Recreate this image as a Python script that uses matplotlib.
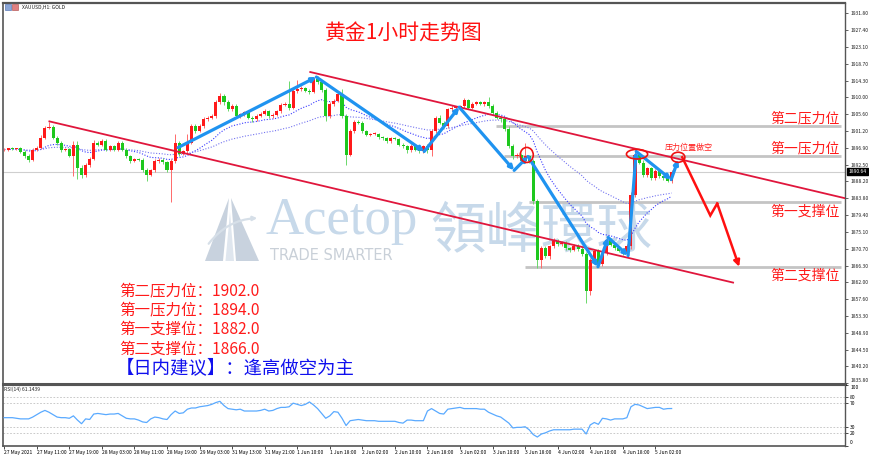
import matplotlib
matplotlib.use('Agg')
import matplotlib.pyplot as plt
import numpy as np
import pandas as pd
from matplotlib.patches import Ellipse, Polygon, Rectangle, FancyArrowPatch
from matplotlib.transforms import blended_transform_factory

plt.rcParams['font.family'] = ['Noto Sans CJK SC', 'DejaVu Sans']

# ---------------- data ----------------
first_open = 1896.2
closes = [
    1896.4, 1896.7, 1896.6, 1896.7, 1895.8, 1894.7, 1893.8, 1896.4, 1896.9, 1899.5,
    1902.1, 1902.2, 1899.5, 1898.2, 1896.4, 1896.6, 1894.7, 1897.7, 1891.7, 1889.9,
    1892.5, 1894.0, 1898.2, 1897.7, 1898.6, 1896.4, 1897.3, 1896.4, 1898.2, 1896.4,
    1894.7, 1893.4, 1893.9, 1893.7, 1891.2, 1889.9, 1891.0, 1893.4, 1893.8, 1893.2,
    1891.2, 1893.4, 1898.2, 1895.3, 1896.0, 1898.2, 1902.5, 1901.2, 1902.5, 1904.2,
    1904.7, 1905.1, 1908.6, 1910.3, 1908.6, 1906.8, 1907.7, 1905.1, 1905.5, 1906.2,
    1904.7, 1904.2, 1905.1, 1905.7, 1906.4, 1905.1, 1905.4, 1906.4, 1907.9, 1908.3,
    1907.3, 1911.6, 1912.0, 1912.3, 1911.6, 1911.4, 1914.6, 1914.0, 1911.8, 1905.1,
    1908.1, 1909.0, 1910.7, 1905.1, 1895.1, 1901.2, 1903.6, 1903.4, 1901.2, 1900.2,
    1900.5, 1900.5, 1899.6, 1899.3, 1898.6, 1899.3, 1899.1, 1897.7, 1897.3, 1896.2,
    1897.3, 1896.4, 1896.0, 1897.3, 1896.4, 1901.2, 1904.7, 1903.4, 1902.5, 1906.8,
    1907.3, 1907.4, 1907.7, 1909.2, 1907.3, 1908.3, 1908.6, 1908.3, 1908.6, 1907.7,
    1906.0, 1904.7, 1904.2, 1901.6, 1897.3, 1894.7, 1895.0, 1893.4, 1894.7, 1893.4,
    1883.0, 1867.8, 1870.9, 1868.7, 1871.3, 1872.6, 1871.9, 1872.2, 1870.9, 1870.4,
    1871.5, 1870.7, 1869.3, 1859.6, 1867.8, 1870.0, 1866.7, 1869.5, 1873.0, 1871.7,
    1870.9, 1870.2, 1869.6, 1871.3, 1884.7, 1895.1, 1893.0, 1889.8, 1891.5, 1889.0,
    1890.8, 1889.5, 1888.9, 1888.3, 1890.64]

wick_up = [
    0.3, 0.2, 0.3, 0.2, 0.3, 0.4, 0.5, 0.4, 0.3, 0.6,
    0.5, 1.4, 0.6, 0.4, 0.5, 0.3, 0.3, 0.8, 0.9, 0.6,
    0.5, 0.4, 0.6, 0.4, 0.5, 0.6, 0.4, 0.3, 0.5, 0.4,
    0.3, 0.4, 0.3, 0.3, 0.4, 0.3, 0.4, 0.5, 0.3, 0.4,
    0.3, 0.6, 2.1, 0.5, 0.4, 2.1, 0.6, 0.4, 0.5, 0.6,
    0.4, 0.5, 0.6, 0.8, 0.5, 0.6, 0.4, 0.5, 0.4, 0.3,
    0.4, 0.3, 0.4, 0.5, 0.4, 0.3, 0.4, 0.3, 0.5, 0.4,
    5.9, 0.6, 2.4, 0.5, 0.4, 0.5, 0.6, 0.9, 0.5, 0.6,
    0.5, 0.6, 0.6, 1.3, 0.5, 0.6, 0.5, 0.4, 0.5, 0.3,
    0.3, 0.4, 0.3, 0.3, 0.4, 0.3, 0.4, 0.3, 0.5, 0.4,
    0.5, 0.4, 0.3, 0.4, 0.5, 0.6, 0.5, 0.6, 0.4, 0.5,
    0.6, 0.4, 0.3, 0.6, 0.4, 0.3, 0.4, 0.3, 0.5, 1.3,
    0.5, 0.4, 0.3, 0.6, 1.0, 0.5, 0.4, 0.5, 3.5, 0.4,
    0.5, 0.6, 0.4, 0.5, 0.4, 0.8, 0.6, 0.5, 0.4, 0.3,
    0.5, 0.4, 0.3, 0.6, 0.5, 0.4, 0.6, 0.5, 0.6, 0.4,
    0.3, 0.4, 0.3, 0.5, 0.6, 1.1, 0.5, 0.6, 0.5, 0.4,
    0.5, 0.4, 0.3, 0.4, 0.5]

wick_dn = [
    0.3, 0.4, 0.3, 0.2, 0.4, 0.5, 0.6, 0.4, 0.3, 0.4,
    0.3, 0.5, 0.4, 0.5, 0.6, 0.4, 0.3, 5.2, 3.0, 1.0,
    0.6, 0.5, 0.4, 0.5, 0.3, 0.5, 0.4, 0.3, 0.4, 0.5,
    0.4, 0.5, 0.3, 0.4, 0.6, 1.7, 0.4, 0.3, 0.4, 0.5,
    0.5, 8.5, 0.5, 0.6, 0.4, 0.5, 0.4, 0.5, 0.3, 0.4,
    0.3, 0.4, 0.5, 0.4, 0.6, 0.5, 0.4, 0.6, 0.4, 0.3,
    0.5, 0.6, 0.4, 0.3, 0.4, 0.5, 0.4, 0.3, 0.4, 0.3,
    0.6, 0.4, 0.5, 0.4, 0.3, 0.5, 0.4, 0.5, 0.6, 1.2,
    0.6, 0.5, 0.4, 0.6, 2.6, 0.5, 0.4, 0.5, 0.6, 0.4,
    0.3, 0.4, 0.5, 0.3, 0.4, 0.5, 0.3, 0.4, 0.5, 0.6,
    0.4, 0.5, 0.6, 0.4, 0.8, 1.7, 0.5, 0.4, 0.6, 0.5,
    0.4, 0.3, 0.5, 0.4, 0.5, 0.4, 0.3, 0.4, 0.5, 0.4,
    0.5, 0.4, 0.6, 0.5, 0.6, 0.8, 0.5, 0.6, 0.5, 0.4,
    0.6, 2.2, 2.2, 0.5, 0.6, 0.4, 0.5, 0.4, 0.6, 0.5,
    0.4, 0.5, 0.6, 3.1, 1.0, 0.5, 0.6, 0.4, 0.5, 0.4,
    0.5, 0.4, 0.5, 0.6, 0.8, 0.5, 0.4, 0.6, 0.5, 0.4,
    0.5, 0.4, 0.3, 0.4, 0.5]

rsi = [
    46, 46, 46, 45, 44, 44, 44, 47, 51, 55,
    58, 55, 51, 47, 46, 46, 45, 49, 42, 36,
    44, 43, 52, 53, 52, 51, 52, 52, 53, 49,
    45, 44, 44, 42, 39, 38, 44, 47, 46, 44,
    43, 51, 57, 53, 54, 60, 62, 62, 64, 65,
    66, 68, 71, 73, 66, 61, 60, 59, 60, 57,
    57, 57, 57, 58, 60, 57, 58, 61, 63, 63,
    64, 70, 68, 66, 68, 72, 67, 61, 53, 45,
    49, 56, 55, 45, 33, 41, 42, 43, 42, 41,
    41, 41, 40, 40, 40, 40, 40, 38, 37, 42,
    42, 41, 41, 41, 57, 61, 57, 53, 52, 60,
    61, 62, 63, 61, 61, 61, 61, 60, 60, 55,
    52, 49, 47, 42, 37, 29, 30, 30, 31, 26,
    18, 14, 19, 21, 24, 26, 26, 26, 26, 26,
    27, 27, 27, 19, 34, 38, 35, 45, 44, 42,
    44, 44, 44, 46, 64, 68, 67, 64, 61, 62,
    63, 63, 60, 61, 61.14]

x_labels = ["27 May 2021", "27 May 11:00", "27 May 19:00", "28 May 03:00", "28 May 11:00",
            "28 May 19:00", "29 May 03:00", "31 May 13:00", "31 May 21:00", "1 Jun 10:00",
            "1 Jun 18:00", "2 Jun 02:00", "2 Jun 10:00", "2 Jun 18:00", "3 Jun 02:00",
            "3 Jun 10:00", "3 Jun 18:00", "4 Jun 02:00", "4 Jun 10:00", "4 Jun 18:00",
            "5 Jun 02:00"]
price_ticks = [1931.80, 1927.40, 1923.10, 1918.70, 1914.30, 1910.00, 1905.60, 1901.20,
               1896.90, 1892.50, 1888.20, 1883.80, 1879.40, 1875.10, 1870.70, 1866.30,
               1862.00, 1857.60, 1853.30, 1848.90, 1844.50, 1840.20, 1835.80]
rsi_ticks = [0, 20, 30, 70, 80, 100]
rsi_levels = [80, 70, 30, 20]
last_price = 1890.64

level_names = ["第二压力位", "第一压力位", "第一支撑位", "第二支撑位"]
level_values = [1902.0, 1894.0, 1882.0, 1866.0]
level_lines = [1902.5, 1894.6, 1882.8, 1865.9]
level_start = [120.9, 122.9, 129.0, 128.0]
advice = "【日内建议】：逢高做空为主"
title = "黄金1小时走势图"

# channel lines (bar, price)
upper_ch_x = [75.2, 206.9]
upper_ch_y = [1916.5, 1883.7]
lower_ch_x = [11.1, 179.1]
lower_ch_y = [1903.7, 1861.9]

# blue swing lines
zig_x = [42.7, 76.7, 103.2, 111.8, 125.3, 128.7, 145.9, 148.4, 153.3, 155.3, 163.9, 165.6]
zig_y = [1896.9, 1915.2, 1895.9, 1907.4, 1891.0, 1894.6, 1866.0, 1873.6, 1868.9, 1895.9, 1888.6, 1893.8]

# red forecast path
fc_x = [166.6, 173.5, 175.2, 180.6]
fc_y = [1894.4, 1879.3, 1882.4, 1866.0]

# red circles (centre bar, centre price, width in bars, height in price)
circles = [(128.4, 1895.0, 3.2, 3.9), (155.5, 1895.2, 5.2, 2.5), (165.6, 1894.4, 3.3, 2.6)]

# ---------------- figure ----------------
W, H = 870, 457
fig = plt.figure(figsize=(W / 100, H / 100), dpi=100)
fig.patch.set_facecolor('white')


def fx(x):
    return x / W


def fy(y):
    return 1 - y / H


ax = fig.add_axes([fx(3), fy(384), (845 - 3) / W, (384 - 3) / H])
axr = fig.add_axes([fx(3), fy(445.5), (845 - 3) / W, (445.5 - 385) / H])

n = len(closes)
xi = np.arange(n)
c = np.array(closes)
o = np.array([first_open] + closes[:-1])
hi = np.maximum(o, c) + np.array(wick_up)
lo = np.minimum(o, c) - np.array(wick_dn)
up = c >= o
cols = np.where(up, '#ff1a1a', '#1ec81e')
wcols = np.where(up, '#ff6a6a', '#6ad86a')
body_bot = np.minimum(o, c)
body_h = np.maximum(np.abs(c - o), 0.18)

ax.vlines(xi, lo, hi, colors=wcols, lw=0.7, zorder=3)
ax.bar(xi, body_h, bottom=body_bot, width=0.75, color=cols, linewidth=0, zorder=4)

# moving averages
s = pd.Series(closes)
ema_fast = s.ewm(span=20, adjust=False).mean()
ema_slow = s.ewm(span=50, adjust=False).mean()
ax.plot(xi, ema_fast, color='#3a3aff', lw=0.8, ls=(0, (1, 1.5)), zorder=2.5)
ax.plot(xi, ema_slow, color='#7474f0', lw=0.8, ls=(0, (1, 1.5)), zorder=2.5)

ax.set_xlim(-0.3, 206.6)
ax.set_ylim(1835.6, 1934.4)

# bid line
ax.axhline(last_price, color='#cfcfcf', lw=0.8, zorder=1.5)

# support / resistance lines
for lv, st in zip(level_lines, level_start):
    ax.plot([st, 205.6], [lv, lv], color='#c4c4c4', lw=2.0, zorder=1.6, solid_capstyle='butt')

# channel
ax.plot(upper_ch_x, upper_ch_y, color='#e0163c', lw=1.3, zorder=5)
ax.plot(lower_ch_x, lower_ch_y, color='#e0163c', lw=1.3, zorder=5)

# blue swing lines with small arrowheads
for i in range(len(zig_x) - 1):
    ax.annotate('', xy=(zig_x[i + 1], zig_y[i + 1]), xytext=(zig_x[i], zig_y[i]),
                arrowprops=dict(arrowstyle='-|>', color='#1f93f0', lw=2.3,
                                mutation_scale=6, shrinkA=0, shrinkB=0), zorder=6)

# red forecast
ax.plot(fc_x[:-1], fc_y[:-1], color='#ff1010', lw=1.8, zorder=6, solid_joinstyle='miter')
ax.annotate('', xy=(fc_x[-1], fc_y[-1]), xytext=(fc_x[-2], fc_y[-2]),
            arrowprops=dict(arrowstyle='-|>', color='#ff1010', lw=1.8,
                            mutation_scale=9, shrinkA=0, shrinkB=0), zorder=6)

for cx, cy, cw, ch in circles:
    ax.add_patch(Ellipse((cx, cy), cw, ch, fill=False, edgecolor='#ee1111', lw=1.2, zorder=7))

# watermark
wm = '#c7d9ea'
ax.text(fx(266), fy(234), 'Acetop', transform=fig.transFigure, fontsize=38,
        family=['Liberation Serif', 'DejaVu Serif'], color=wm, ha='left', va='baseline', zorder=0.5)
ax.text(fx(430), fy(232), '領峰環球', transform=fig.transFigure, fontsize=40,
        family=['Noto Sans CJK TC', 'DejaVu Sans'], color=wm, ha='left', va='center', zorder=0.5)
ax.text(fx(270), fy(256), 'TRADE SMARTER', transform=fig.transFigure, fontsize=10.5,
        family=['DejaVu Sans'], color='#c9d0d8', ha='left', va='center', zorder=0.5)
logo = '#c8d2de'
for pts in ([(205, 261), (229, 198), (223, 261)], [(236, 261), (231, 198), (259, 261)]):
    ax.add_patch(Polygon([(fx(a), fy(b)) for a, b in pts], closed=True, transform=fig.transFigure,
                         facecolor=logo, edgecolor='none', zorder=0.5))
ax.add_patch(Polygon([(fx(a), fy(b)) for a, b in [(225.5, 261), (230, 212), (234, 261)]], closed=True,
                     transform=fig.transFigure, facecolor='#dfe6ee', edgecolor='none', zorder=0.5))
ax.add_patch(FancyArrowPatch((fx(207), fy(246)), (fx(260), fy(218)), transform=fig.transFigure,
                             connectionstyle='arc3,rad=-0.25', arrowstyle='-|>', mutation_scale=6,
                             color='#d6dfe8', lw=1.6, zorder=0.6))

# axes styling (main)
ax.set_xticks([])
ax.yaxis.tick_right()
ax.set_yticks(price_ticks)
ax.set_yticklabels([f'{v:.2f}' for v in price_ticks])
ax.tick_params(axis='y', direction='out', length=2.5, width=0.5, labelsize=3.6, pad=1.2, colors='#222222')
ax.get_yticklabels()[-1].set_va('bottom')
for side, lw in (('top', 1.6), ('bottom', 2.2), ('left', 1.2), ('right', 1.0)):
    ax.spines[side].set_linewidth(lw)
    ax.spines[side].set_color('#555555')

tr = blended_transform_factory(ax.transAxes, ax.transData)
ax.text(1.004, last_price, f'{last_price:.2f}', transform=tr, fontsize=3.6, color='white',
        ha='left', va='center', zorder=10, clip_on=False,
        bbox=dict(facecolor='black', edgecolor='black', pad=0.8))

# RSI panel
axr.plot(xi, rsi, color='#5aaaff', lw=0.9, zorder=3)
for lv in rsi_levels:
    axr.axhline(lv, color='#c0c0c0', lw=0.6, ls=(0, (2, 2)), zorder=1)
axr.set_xlim(-0.3, 206.6)
axr.set_ylim(0, 100)
axr.yaxis.tick_right()
axr.set_yticks(rsi_ticks)
axr.set_yticklabels([str(v) for v in rsi_ticks])
axr.tick_params(axis='y', direction='out', length=2.5, width=0.5, labelsize=3.6, pad=1.2)
rl = axr.get_yticklabels()
rl[0].set_va('bottom')
rl[-1].set_va('top')
tick_pos = [8 * k for k in range(len(x_labels))]
axr.set_xticks(tick_pos)
axr.set_xticklabels(x_labels)
for lab in axr.get_xticklabels():
    lab.set_ha('left')
axr.tick_params(axis='x', direction='out', length=2, width=0.5, labelsize=3.6, pad=1.5)
for side, lw in (('top', 0.8), ('bottom', 1.2), ('left', 1.2), ('right', 1.0)):
    axr.spines[side].set_linewidth(lw)
    axr.spines[side].set_color('#555555')
axr.text(fx(4), fy(389), 'RSI(14) 61.1439', transform=fig.transFigure, fontsize=3.6,
         color='#222222', ha='left', va='center')

# header label
ax.add_patch(Rectangle((fx(5), fy(10)), 6 / W, 6 / H, transform=fig.transFigure,
                       facecolor='#8aa6d8', edgecolor='#4466aa', lw=0.4, zorder=8))
ax.add_patch(Rectangle((fx(12), fy(10)), 6 / W, 6 / H, transform=fig.transFigure,
                       facecolor='#e08080', edgecolor='#aa4444', lw=0.4, zorder=8))
ax.text(fx(22), fy(7), 'XAUUSD,H1: GOLD', transform=fig.transFigure, fontsize=3.6,
        color='#222222', ha='left', va='center', zorder=8)

# title
ax.text(fx(404), fy(34), title, transform=fig.transFigure, fontsize=15, color='#ff1111',
        ha='center', va='center', zorder=10)

# right side labels
for name, yy in zip(level_names, [118, 148, 212, 276]):
    ax.text(fx(770), fy(yy), name, transform=fig.transFigure, fontsize=10, color='#ff1a1a',
            ha='left', va='center', zorder=10)

ax.text(fx(665), fy(147), '压力位置做空', transform=fig.transFigure, fontsize=5.8, color='#ff2020',
        ha='left', va='center', zorder=10)

# left summary block
for k, (name, val) in enumerate(zip(level_names, level_values)):
    ax.text(fx(119), fy(291 + 19.3 * k), f'{name}：{val:.1f}', transform=fig.transFigure,
            fontsize=11.2, color='#ff1a1a', ha='left', va='center', zorder=10)
ax.text(fx(116), fy(368.5), advice, transform=fig.transFigure, fontsize=13.2, color='#1010ee',
        ha='left', va='center', zorder=10)

fig.savefig('out.png', dpi=100, facecolor='white')
